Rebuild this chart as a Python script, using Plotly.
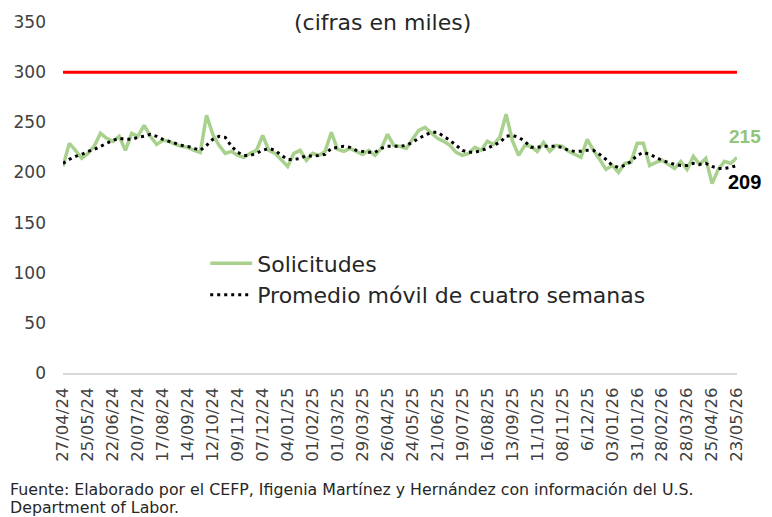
import pandas as pd
import plotly.graph_objects as go

# weekly initial claims (thousands), 27/04/24 .. 23/05/26
fecha_inicio = "2024-04-27"
solicitudes = [
    206, 229, 222, 214, 219, 226, 239, 234, 231, 236,
    222, 239, 236, 247, 236, 228, 232, 231, 228, 226,
    225, 222, 220, 257, 238, 227, 219, 221, 217, 215,
    219, 222, 237, 222, 219, 212, 206, 219, 222, 212,
    219, 217, 221, 240, 223, 221, 224, 221, 218, 222,
    217, 224, 238, 227, 226, 224, 233, 242, 245, 240,
    234, 231, 227, 220, 217, 219, 225, 222, 231, 228,
    235, 258, 232, 217, 227, 226, 221, 230, 221, 227,
    226, 221, 218, 215, 233, 222, 213, 203, 207, 200,
    209, 210, 229, 229, 207, 210, 212, 208, 204, 211,
    203, 216, 208, 214, 189, 203, 211, 209, 215,
]
promedio_movil = [
    209, 213, 216, 218, 221, 223, 226, 229, 232, 234,
    233, 233, 235, 236, 238, 236, 233, 231, 229, 227,
    226, 224, 222, 227, 233, 236, 235, 226, 220, 217,
    217, 219, 222, 224, 222, 217, 213, 213, 214, 217,
    216, 217, 218, 224, 225, 226, 225, 222, 221, 220,
    220, 224, 226, 226, 226, 227, 230, 234, 237, 240,
    240, 236, 232, 227, 222, 220, 220, 222, 224, 227,
    230, 236, 237, 235, 231, 225, 225, 226, 226, 226,
    225, 222, 221, 221, 222, 222, 218, 213, 207, 205,
    207, 211, 217, 220, 218, 215, 212, 210, 208, 207,
    207, 209, 208, 209, 206, 204, 204, 205, 207,
]
tick_labels = [
    "27/04/24", "25/05/24", "22/06/24", "20/07/24", "17/08/24", "14/09/24",
    "12/10/24", "09/11/24", "07/12/24", "04/01/25", "01/02/25", "01/03/25",
    "29/03/25", "26/04/25", "24/05/25", "21/06/25", "19/07/25", "16/08/25",
    "13/09/25", "11/10/25", "08/11/25", "6/12/25", "03/01/26", "31/01/26",
    "28/02/26", "28/03/26", "25/04/26", "23/05/26",
]
umbral = 300
ultimo_solicitudes = "215"
ultimo_promedio = "209"

fechas = pd.date_range(fecha_inicio, periods=len(solicitudes), freq="7D")

FONT = "DejaVu Sans"
VERDE = "#A9D18E"

fig = go.Figure()
fig.add_trace(go.Scatter(
    x=fechas, y=solicitudes, mode="lines", name="Solicitudes",
    line=dict(color=VERDE, width=3.5),
))
fig.add_trace(go.Scatter(
    x=fechas, y=promedio_movil, mode="lines",
    name="Promedio móvil de cuatro semanas",
    line=dict(color="black", width=3, dash="3px,4px"),
))
fig.add_hline(y=umbral, line=dict(color="#FF0000", width=3))

# end labels, kept inside the right edge of the figure
fig.add_annotation(x=fechas[-1], y=solicitudes[-1], text=f"<b>{ultimo_solicitudes}</b>",
                   showarrow=False, xanchor="right", yanchor="bottom", xshift=26, yshift=8,
                   font=dict(family="Liberation Sans", size=19, color="#92C47A"))
fig.add_annotation(x=fechas[-1], y=promedio_movil[-1], text=f"<b>{ultimo_promedio}</b>",
                   showarrow=False, xanchor="right", yanchor="top", xshift=26, yshift=-4,
                   font=dict(family="Liberation Sans", size=20, color="black"))
fig.add_annotation(xref="paper", yref="paper", x=0.474, y=1.0, yanchor="middle",
                   text="(cifras en miles)", showarrow=False,
                   font=dict(family=FONT, size=22, color="#262626"))
fig.add_annotation(xref="paper", yref="paper", x=-0.082, y=-0.333,
                   xanchor="left", yanchor="middle", showarrow=False,
                   text="Fuente: Elaborado por el CEFP, Ifigenia Martínez y Hernández con información del U.S.",
                   font=dict(family=FONT, size=15.8, color="#262626"))
fig.add_annotation(xref="paper", yref="paper", x=-0.082, y=-0.384,
                   xanchor="left", yanchor="middle", showarrow=False,
                   text="Department of Labor.",
                   font=dict(family=FONT, size=15.8, color="#262626"))

# the page puts the figure 8px in from the top-left corner
fig.update_layout(
    width=764, height=509,
    margin=dict(l=55, r=35, t=14, b=144),
    paper_bgcolor="white", plot_bgcolor="white",
    font=dict(family=FONT, color="#404040"),
    showlegend=True,
    legend=dict(x=0.211, y=0.372, xanchor="left", yanchor="top",
                bgcolor="rgba(0,0,0,0)", itemwidth=42,
                font=dict(family=FONT, size=22, color="#262626"),
                tracegroupgap=3),
)
fig.update_xaxes(
    range=[fechas[0], fechas[-1]], automargin=False,
    tickvals=fechas[::4], ticktext=tick_labels, tickangle=-90,
    tickfont=dict(family=FONT, size=16.5, color="#404040"),
    showgrid=False, showline=True, linecolor="#D9D9D9", linewidth=2,
    ticks="", zeroline=False, ticklabelstandoff=6,
)
fig.update_yaxes(
    range=[0, 350], dtick=50, automargin=False,
    tickfont=dict(family=FONT, size=17, color="#404040"),
    showgrid=False, showline=False, zeroline=False, ticks="", ticklabelstandoff=16,
)

fig.write_html("out.html")
